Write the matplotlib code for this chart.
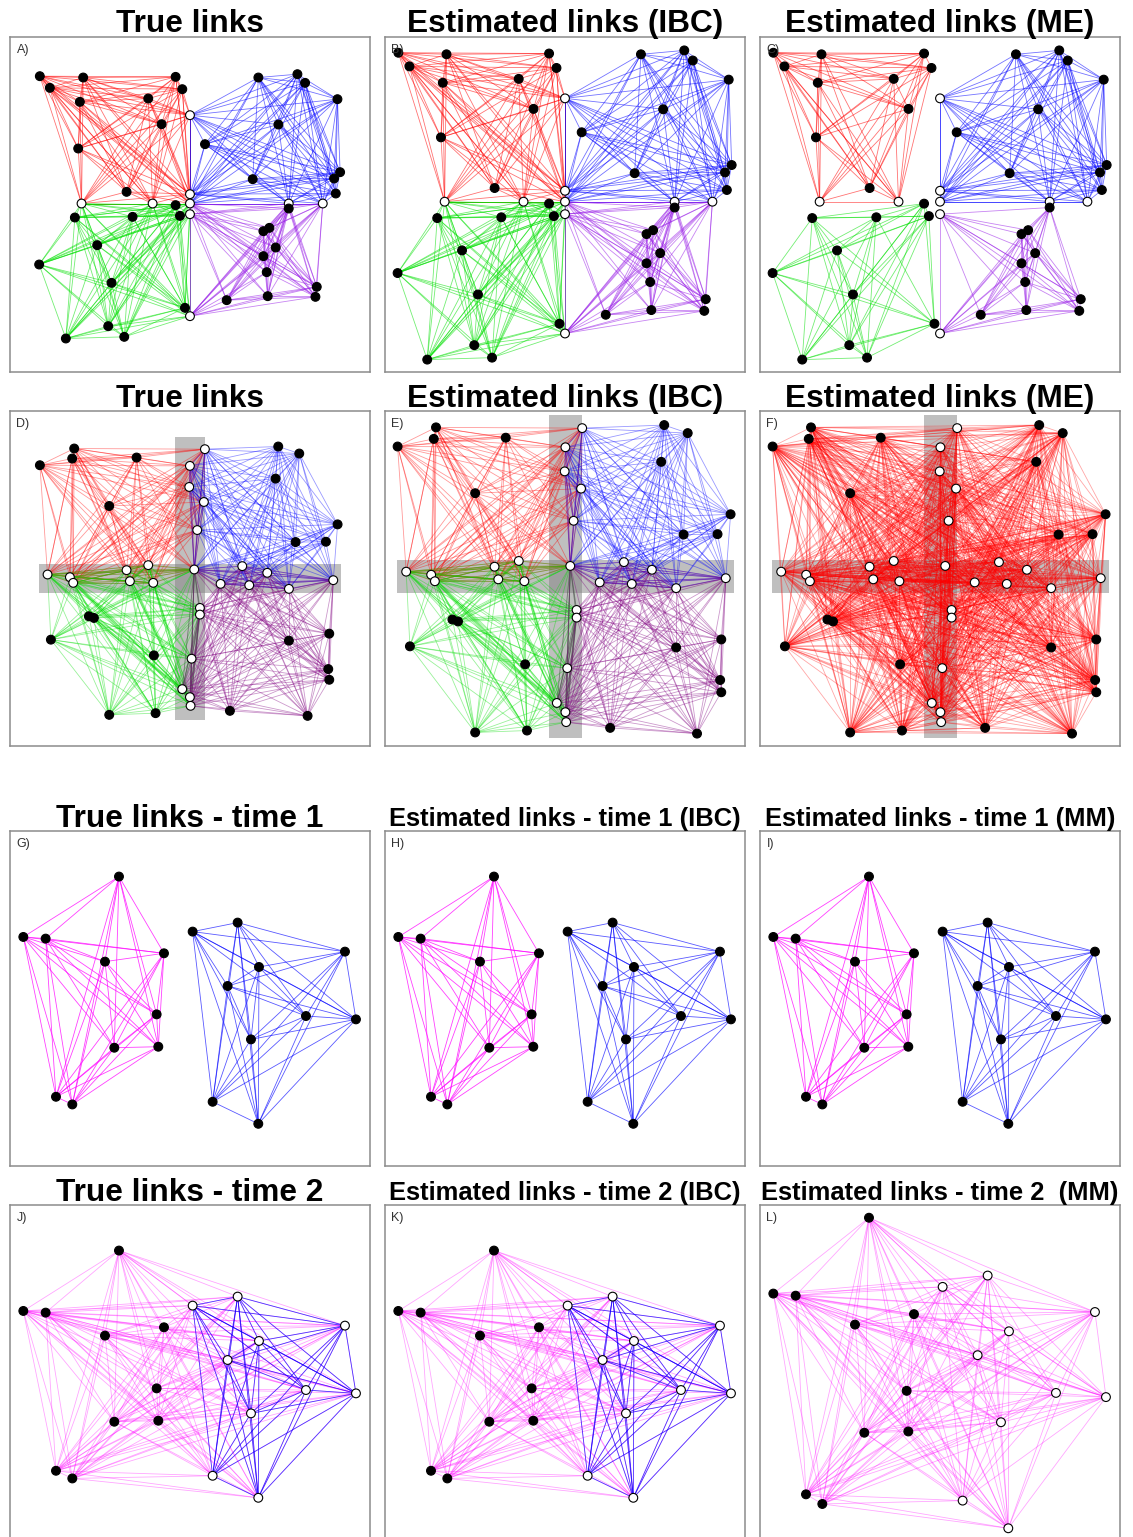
"""Overlapping-community network panels: true links vs. estimated links (IBC / ME / MM)."""

import itertools

import matplotlib
matplotlib.use("Agg")  # non-interactive backend
import matplotlib.pyplot as plt
from matplotlib.collections import LineCollection
from matplotlib.patches import Rectangle


# ---------------------------------------------------------------------------
# Data (layout units)
# ---------------------------------------------------------------------------

# network 1: four blocks, a few white boundary nodes shared between blocks
NET1_X = [90, 220, 497, 120, 517, 210, 415, 455, 205, 350,
          540,
          745, 862, 885, 982, 805, 585, 728, 990, 972, 977,
          540, 540, 540, 215, 428,
          497, 510, 195, 368, 262, 88, 305, 295, 168, 343, 525,
          540, 836, 938,
          836, 760, 778, 797, 760, 770, 650, 773, 920, 916]
NET1_Y = [118, 122, 120, 153, 157, 195, 185, 262, 335, 465,
          235,
          122, 112, 138, 187, 263, 322, 427, 406, 425, 470,
          472, 500, 532, 500, 500,
          505, 537, 542, 540, 625, 683, 738, 868, 905, 900, 813,
          838, 500, 500,
          515, 583, 573, 632, 658, 706, 790, 778, 750, 780]
NET1_WHITE = [0] * 10 + [1] + [0] * 10 + [1, 1, 1, 1, 1] + [0] * 11 + [1, 1, 1] + [0] * 10
NET1_TRUE = ["R"] * 10 + ["RB"] + ["B"] * 10 + ["RB", "RBGP", "GP", "RG", "RG"] \
    + ["G"] * 11 + ["GP", "BP", "BP"] + ["P"] * 10
NET1_ME = ["R"] * 10 + ["B"] + ["B"] * 10 + ["B", "B", "P", "R", "R"] \
    + ["G"] * 11 + ["P", "B", "B"] + ["P"] * 10

# network 2: four blocks with overlap bands (grey) along the block borders
NET2_X = [193, 187, 90, 380, 298,
          805, 868, 797, 983, 857, 948,
          237, 252, 123, 432, 298, 437,
          958, 837, 955, 958, 660, 893,
          585, 540, 538, 582, 562,
          553,
          570, 570, 545, 517, 540, 542,
          113, 180, 190, 350, 415, 360, 430,
          697, 632, 718, 772, 837, 970]
NET2_Y = [113, 143, 163, 140, 285,
          107, 128, 203, 340, 393, 392,
          615, 620, 685, 732, 910, 905,
          667, 688, 773, 805, 898, 913,
          115, 165, 228, 273, 357,
          475,
          590, 610, 742, 833, 857, 883,
          490, 498, 515, 477, 462, 510, 515,
          465, 518, 522, 485, 533, 507]
NET2_WHITE = [0] * 23 + [1] * 25
NET2_TRUE = ["R"] * 5 + ["B"] * 6 + ["G"] * 6 + ["P"] * 6 + ["RB"] * 5 + ["RBGP"] \
    + ["GP"] * 6 + ["RG"] * 7 + ["BP"] * 6
NET2_ME = ["R"] * 48
# overlap bands: (x0, y0, x1, y1)
NET2_BANDS = [(495, 80, 585, 925), (88, 460, 993, 545)]

# networks 3/4: two groups over two time points (same layout)
TIME_X = [327, 40, 107, 285, 462, 440, 313, 445, 138, 187,
          548, 683, 1005, 747, 653, 888, 1038, 723, 608, 745]
TIME_Y = [137, 318, 323, 392, 367, 550, 650, 647, 797, 820,
          302, 275, 362, 408, 465, 555, 565, 625, 812, 878]
TIME1_WHITE = [0] * 20
TIME1_GROUPS = ["M"] * 10 + ["B"] * 10
TIME2_WHITE = [0] * 10 + [1] * 10
TIME2_TRUE = ["M"] * 10 + ["MB"] * 10
TIME2_MM = ["M"] * 20

TITLES = [
    ["True links", "Estimated links (IBC)", "Estimated links (ME)"],
    ["True links", "Estimated links (IBC)", "Estimated links (ME)"],
    ["True links - time 1", "Estimated links - time 1 (IBC)", "Estimated links - time 1 (MM)"],
    ["True links - time 2", "Estimated links - time 2 (IBC)", "Estimated links - time 2  (MM)"],
]
LABELS = ["A)", "B)", "C)", "D)", "E)", "F)", "G)", "H)", "I)", "J)", "K)", "L)"]


# ---------------------------------------------------------------------------
# Figure geometry (pixels)
# ---------------------------------------------------------------------------

FIG_W, FIG_H = 1133, 1537
COL_X = [10, 385, 760]
ROW_Y = [37, 411, 831, 1205]
BOX_W, BOX_H = 360, 335
TITLE_Y = [24, 399, 819, 1193]

COLORS_1 = {"R": "#ff0000", "B": "#0000ff", "G": "#00e000", "P": "#9a20e8"}
COLORS_2 = {"R": "#ff0000", "B": "#0000ff", "G": "#00dd00", "P": "#800080"}
COLORS_T = {"M": "#ff00ff", "B": "#0000ff"}


# ---------------------------------------------------------------------------
# Plotting
# ---------------------------------------------------------------------------

def draw_network(ax, xs, ys, white, groups, colors, alphas, pads, bands=None):
    """Draw nodes and all within-group links, rescaled to fill the box with given pads."""
    xmin, xmax = min(xs), max(xs)
    ymin, ymax = min(ys), max(ys)
    u = [(x - xmin) / (xmax - xmin) for x in xs]
    v = [(y - ymin) / (ymax - ymin) for y in ys]

    l, r, t, b = pads
    w = 1 - l - r
    h = 1 - t - b
    ax.set_xlim(-l / w, 1 + r / w)
    ax.set_ylim(1 + b / h, -t / h)

    if bands:
        for x0, y0, x1, y1 in bands:
            ax.add_patch(Rectangle(((x0 - xmin) / (xmax - xmin), (y0 - ymin) / (ymax - ymin)),
                                   (x1 - x0) / (xmax - xmin), (y1 - y0) / (ymax - ymin),
                                   facecolor="#808080", alpha=0.5, edgecolor="none", zorder=1))

    for key, col in colors.items():
        members = [i for i, g in enumerate(groups) if key in g]
        segs = [[(u[i], v[i]), (u[j], v[j])] for i, j in itertools.combinations(members, 2)]
        if segs:
            ax.add_collection(LineCollection(segs, colors=col, linewidths=0.6,
                                             alpha=alphas.get(key, 0.6), zorder=2))

    face = ["white" if wt else "black" for wt in white]
    ax.scatter(u, v, s=40, c=face, edgecolors="black", linewidths=0.8, zorder=3)


def make_axes(fig, row, col):
    left = COL_X[col] / FIG_W
    bottom = 1 - (ROW_Y[row] + BOX_H) / FIG_H
    ax = fig.add_axes([left, bottom, BOX_W / FIG_W, BOX_H / FIG_H])
    ax.set_xticks([])
    ax.set_yticks([])
    for s in ax.spines.values():
        s.set_color("#8c8c8c")
        s.set_linewidth(1.1)
    return ax


def main():
    plt.rcParams["font.family"] = ["Liberation Sans", "DejaVu Sans"]
    fig = plt.figure(figsize=(FIG_W / 100, FIG_H / 100), dpi=100)

    pad_a = (0.081, 0.083, 0.111, 0.100)
    pad_b = (0.035, 0.037, 0.040, 0.037)
    pad_d = (0.083, 0.090, 0.106, 0.090)
    pad_e = (0.035, 0.040, 0.042, 0.037)
    pad_g = (0.037, 0.039, 0.136, 0.126)
    pad_l = (0.037, 0.039, 0.038, 0.035)

    a1 = {k: 0.55 for k in COLORS_1}
    a2 = {k: 0.4 for k in COLORS_2}
    a3 = {"M": 0.75, "B": 0.65}
    a4 = {"M": 0.35, "B": 0.7}

    panels = [
        # row, col, x, y, white, groups, colors, alphas, pads, bands
        (0, 0, NET1_X, NET1_Y, NET1_WHITE, NET1_TRUE, COLORS_1, a1, pad_a, None),
        (0, 1, NET1_X, NET1_Y, NET1_WHITE, NET1_TRUE, COLORS_1, a1, pad_b, None),
        (0, 2, NET1_X, NET1_Y, NET1_WHITE, NET1_ME, COLORS_1, a1, pad_b, None),
        (1, 0, NET2_X, NET2_Y, NET2_WHITE, NET2_TRUE, COLORS_2, a2, pad_d, NET2_BANDS),
        (1, 1, NET2_X, NET2_Y, NET2_WHITE, NET2_TRUE, COLORS_2, a2, pad_e, NET2_BANDS),
        (1, 2, NET2_X, NET2_Y, NET2_WHITE, NET2_ME, {"R": "#ff0000"}, {"R": 0.35}, pad_e, NET2_BANDS),
        (2, 0, TIME_X, TIME_Y, TIME1_WHITE, TIME1_GROUPS, COLORS_T, a3, pad_g, None),
        (2, 1, TIME_X, TIME_Y, TIME1_WHITE, TIME1_GROUPS, COLORS_T, a3, pad_g, None),
        (2, 2, TIME_X, TIME_Y, TIME1_WHITE, TIME1_GROUPS, COLORS_T, a3, pad_g, None),
        (3, 0, TIME_X, TIME_Y, TIME2_WHITE, TIME2_TRUE, COLORS_T, a4, pad_g, None),
        (3, 1, TIME_X, TIME_Y, TIME2_WHITE, TIME2_TRUE, COLORS_T, a4, pad_g, None),
        (3, 2, TIME_X, TIME_Y, TIME2_WHITE, TIME2_MM, {"M": "#ff00ff"}, {"M": 0.35}, pad_l, None),
    ]

    for k, (row, col, xs, ys, white, groups, colors, alphas, pads, bands) in enumerate(panels):
        ax = make_axes(fig, row, col)
        draw_network(ax, xs, ys, white, groups, colors, alphas, pads, bands)
        ax.text(0.018, 0.978, LABELS[k], transform=ax.transAxes, ha="left", va="top",
                fontsize=9, color="#333333", zorder=5)

        small = row >= 2 and col > 0
        fig.text((COL_X[col] + BOX_W / 2) / FIG_W, 1 - TITLE_Y[row] / FIG_H, TITLES[row][col],
                 ha="center", va="center", fontweight="bold",
                 fontsize=18.4 if small else 22.8)

    fig.savefig("out.png", dpi=100)
    plt.close(fig)


if __name__ == "__main__":
    main()
